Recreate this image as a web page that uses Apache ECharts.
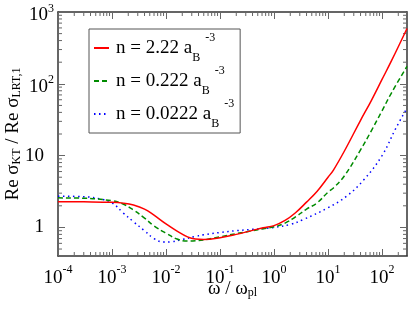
<!DOCTYPE html>
<html>
<head>
<meta charset="utf-8">
<script src="https://cdn.jsdelivr.net/npm/echarts@6/dist/echarts.min.js"></script>
<style>html,body{margin:0;padding:0;background:#fff;}#c{width:409px;height:310px;}</style>
</head>
<body>
<div id="c"></div>
<script>
// omega / omega_pl sample points and Re sigma_KT / Re sigma_LRT,1 values
const omegaRed   = [0.0001,0.0003,0.001,0.0016,0.0025,0.004,0.006,0.01,0.016,0.025,0.035,0.05,0.1,0.2,0.4,0.63,1,1.6,2.5,4,6.3,10,12.6,20,40,63,100,150,290];
const valuesRed  = [2.28,2.27,2.24,2.18,2.05,1.8,1.48,1.12,0.89,0.74,0.69,0.68,0.72,0.80,0.91,0.99,1.06,1.25,1.6,2.25,3.2,5.0,6.3,11.5,31,58,115,210,590];

const omegaGreen  = [0.0001,0.0003,0.001,0.0016,0.0025,0.004,0.006,0.01,0.016,0.025,0.035,0.05,0.1,0.2,0.4,0.63,1,1.6,2.5,4,6.3,10,12.6,20,40,63,100,150,290];
const valuesGreen = [2.58,2.55,2.35,2.12,1.75,1.35,1.05,0.83,0.69,0.645,0.65,0.67,0.74,0.82,0.9,0.96,1.02,1.15,1.4,1.8,2.2,3.1,3.55,5.2,12,22,42,75,175];

const omegaBlue  = [0.0001,0.0003,0.0006,0.001,0.0016,0.0025,0.004,0.006,0.009,0.012,0.02,0.035,0.05,0.1,0.2,0.4,1,2,3.5,10,22,46,100,180,290];
const valuesBlue = [2.72,2.68,2.5,2.2,1.6,1.2,0.9,0.7,0.625,0.63,0.68,0.75,0.79,0.85,0.9,0.94,1.0,1.1,1.29,1.88,2.72,4.6,10,24,46];

const seriesNames = ['n = 2.22 a', 'n = 0.222 a', 'n = 0.0222 a'];
const legendLabels = ['{t|n = 2.22 a}{sub|B}{sup|-3}', '{t|n = 0.222 a}{sub|B}{sup|-3}', '{t|n = 0.0222 a}{sub|B}{sup|-3}'];

const X_MIN = 1e-4, X_MAX = 290, Y_MIN = 0.4, Y_MAX = 1000;
const minorMultipliers = [2,3,4,5,6,7,8,9];
const xDecades = [1e-4,1e-3,1e-2,1e-1,1,10,100];
const yDecades = [0.1,1,10,100];

const xMinorTicks = [];
xDecades.forEach(d => minorMultipliers.forEach(m => { const v = d*m; if (v > X_MIN && v < X_MAX) xMinorTicks.push(v); }));
const yMinorTicks = [];
yDecades.forEach(d => minorMultipliers.forEach(m => { const v = d*m; if (v > Y_MIN && v < Y_MAX) yMinorTicks.push(v); }));

const FONT = 'Liberation Serif';

function expOf(v){ return Math.round(Math.log10(v)); }

const chart = echarts.init(document.getElementById('c'), null, {renderer:'canvas'});

const axisLineStyle = {color:'#333', width:1.5};
const tickStyle = {color:'#666', width:1};

const xRich = {
  b: {fontFamily: FONT, fontSize: 19, lineHeight: 29, color:'#000'},
  s: {fontFamily: FONT, fontSize: 12, lineHeight: 12, verticalAlign:'top', color:'#000'}
};
const yRich = {
  b: {fontFamily: FONT, fontSize: 19, lineHeight: 19, padding:[7,0,0,0], color:'#000'},
  s: {fontFamily: FONT, fontSize: 12, lineHeight: 12, verticalAlign:'top', color:'#000'},
  p: {fontFamily: FONT, fontSize: 19, lineHeight: 19, padding:[0,10,0,0], color:'#000'}
};

function minorTickSeries(dim, ticks) {
  return {
    type: 'custom',
    name: '_minor_' + dim,
    silent: true,
    clip: false,
    xAxisIndex: 0, yAxisIndex: 0,
    data: ticks.map(v => dim === 'x' ? [v, 1] : [1, v]),
    renderItem: function(params, api) {
      const cs = params.coordSys;
      const L = 4;
      if (dim === 'x') {
        const x = api.coord([api.value(0), 1])[0];
        const yb = cs.y + cs.height, yt = cs.y;
        return {type:'group', children:[
          {type:'line', shape:{x1:x,y1:yb,x2:x,y2:yb-L}, style:{stroke:'#666', lineWidth:1}},
          {type:'line', shape:{x1:x,y1:yt,x2:x,y2:yt+L}, style:{stroke:'#666', lineWidth:1}}
        ]};
      } else {
        const y = api.coord([1, api.value(1)])[1];
        const xl = cs.x, xr = cs.x + cs.width;
        return {type:'group', children:[
          {type:'line', shape:{x1:xl,y1:y,x2:xl+L,y2:y}, style:{stroke:'#666', lineWidth:1}},
          {type:'line', shape:{x1:xr,y1:y,x2:xr-L,y2:y}, style:{stroke:'#666', lineWidth:1}}
        ]};
      }
    },
    z: 1
  };
}

function pairs(xs, ys){ return xs.map((x,i) => [x, ys[i]]); }

const option = {
  animation: false,
  backgroundColor: '#fff',
  grid: {left: 58, right: 2, top: 12, bottom: 54, containLabel: false, outerBoundsMode: 'none'},
  legend: {
    data: seriesNames,
    orient: 'vertical',
    left: 89, top: 29,
    padding: [3, 6, 3, 4],
    itemGap: 1,
    itemWidth: 15, itemHeight: 14,
    borderColor: '#555', borderWidth: 1,
    backgroundColor: '#fff',
    itemStyle: {opacity: 0},
    formatter: function(name){ return legendLabels[seriesNames.indexOf(name)]; },
    textStyle: {
      fontFamily: FONT, color:'#000',
      rich: {
        t: {fontFamily: FONT, fontSize: 19, lineHeight: 32, padding:[0,0,0,2], color:'#000'},
        sub: {fontFamily: FONT, fontSize: 12, lineHeight: 12, verticalAlign:'bottom', color:'#000'},
        sup: {fontFamily: FONT, fontSize: 12, lineHeight: 12, verticalAlign:'top', padding:[0,0,0,5], color:'#000'}
      }
    }
  },
  xAxis: [{
    type: 'log', min: X_MIN, max: X_MAX, interval: 1,
    position: 'bottom',
    axisLine: {show:true, onZero:false, lineStyle: axisLineStyle},
    axisTick: {show:true, inside:true, length:7, lineStyle: tickStyle},
    splitLine: {show:false},
    axisLabel: {
      margin: 8, showMaxLabel: false,
      formatter: function(v){ return '{b|10}{s|' + expOf(v) + '}'; },
      rich: xRich
    },
    name: '{t|ω / ω}{sub|pl}',
    nameLocation: 'middle', nameGap: 24, nameMoveOverlap: false,
    nameTextStyle: {
      fontFamily: FONT, color:'#000',
      rich: {
        t: {fontFamily: FONT, fontSize: 19, lineHeight: 19, color:'#000'},
        sub: {fontFamily: FONT, fontSize: 12, lineHeight: 12, padding:[20,0,0,0], verticalAlign:'bottom', color:'#000'}
      }
    }
  }, {
    type: 'log', min: X_MIN, max: X_MAX, interval: 1,
    position: 'top',
    axisLine: {show:true, onZero:false, lineStyle: axisLineStyle},
    axisTick: {show:true, inside:true, length:7, lineStyle: tickStyle},
    axisLabel: {show:false},
    splitLine: {show:false}
  }],
  yAxis: [{
    type: 'log', min: Y_MIN, max: Y_MAX,
    position: 'left',
    axisLine: {show:true, onZero:false, lineStyle: axisLineStyle},
    axisTick: {show:true, inside:true, length:7, lineStyle: tickStyle},
    splitLine: {show:false},
    axisLabel: {
      margin: 4, showMinLabel: false,
      formatter: function(v){
        const e = expOf(v);
        if (e === 0) return '{p|1}';
        if (e === 1) return '{p|10}';
        return '{b|10}{s|' + e + '}';
      },
      rich: yRich
    },
    name: '{t|Re σ}{sub|KT}{t| / Re σ}{sub|LRT,1}',
    nameLocation: 'middle', nameGap: 35, nameMoveOverlap: false,
    nameTextStyle: {
      fontFamily: FONT, color:'#000',
      rich: {
        t: {fontFamily: FONT, fontSize: 19, lineHeight: 19, color:'#000'},
        sub: {fontFamily: FONT, fontSize: 12, lineHeight: 12, padding:[14,0,0,0], verticalAlign:'bottom', color:'#000'}
      }
    }
  }, {
    type: 'log', min: Y_MIN, max: Y_MAX,
    position: 'right',
    axisLine: {show:true, onZero:false, lineStyle: axisLineStyle},
    axisTick: {show:true, inside:true, length:7, lineStyle: tickStyle},
    axisLabel: {show:false},
    splitLine: {show:false}
  }],
  series: [
    {
      name: seriesNames[0], type: 'line', data: pairs(omegaRed, valuesRed),
      showSymbol: false, symbol: 'none', smooth: 0.4,
      lineStyle: {color:'#ff0000', width:1.5, type:'solid'}, itemStyle:{color:'#ff0000'}, z: 5
    },
    {
      name: seriesNames[1], type: 'line', data: pairs(omegaGreen, valuesGreen),
      showSymbol: false, symbol: 'none', smooth: 0.4,
      lineStyle: {color:'#008b00', width:1.5, type:[5,3]}, itemStyle:{color:'#008b00'}, z: 4
    },
    {
      name: seriesNames[2], type: 'line', data: pairs(omegaBlue, valuesBlue),
      showSymbol: false, symbol: 'none', smooth: 0.4,
      lineStyle: {color:'#0000ff', width:1.5, type:[1.5,3.5]}, itemStyle:{color:'#0000ff'}, z: 3
    },
    minorTickSeries('x', xMinorTicks),
    minorTickSeries('y', yMinorTicks)
  ]
};
chart.setOption(option);
</script>
</body>
</html>
